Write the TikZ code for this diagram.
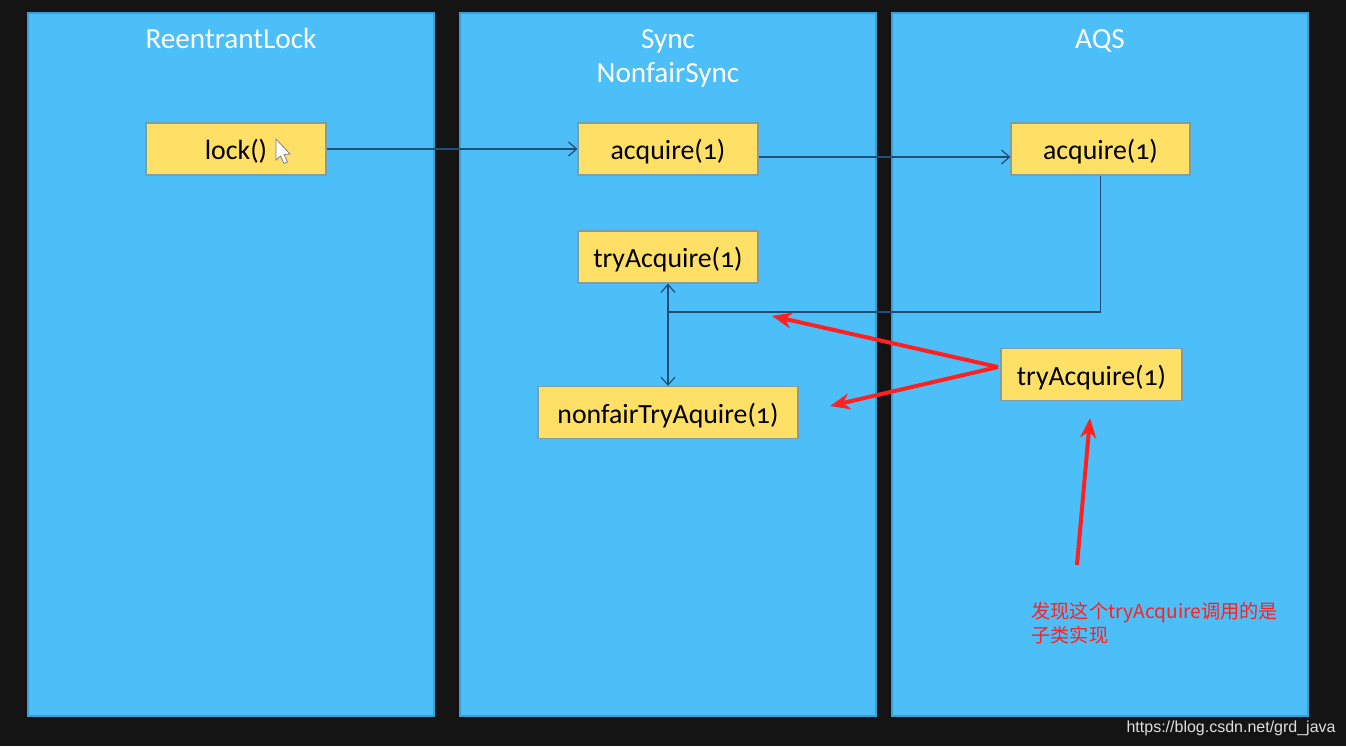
\documentclass[tikz,border=0pt]{standalone}
\usepackage{fontspec}
\setmainfont{Carlito}[Numbers=OldStyle]
\newfontfamily\cjk{Noto Sans CJK SC}
\newfontfamily\markfont{Liberation Sans}
\usetikzlibrary{arrows.meta}
\definecolor{bgdark}{HTML}{141414}
\definecolor{panelblue}{HTML}{4CBEF8}
\definecolor{paneledge}{HTML}{3A9FD6}
\definecolor{boxyellow}{HTML}{FFE066}
\definecolor{boxedge}{HTML}{7E9DA8}
\definecolor{linkblue}{HTML}{1F4E79}
\definecolor{notered}{HTML}{FF2020}
\begin{document}
\begin{tikzpicture}[x=0.5pt, y=-0.5pt,
  panel/.style={fill=panelblue, draw=paneledge, line width=0.6pt},
  title node/.style={text=white, font=\fontsize{14.6}{17}\selectfont},
  box node/.style={rectangle, draw=boxedge, fill=boxyellow, line width=0.6pt, minimum height=26pt, inner sep=0pt, text height=10.6pt, text depth=0pt, font=\fontsize{13.9}{16}\selectfont},
  link/.style={draw=linkblue, line width=0.6pt},
  red arrow/.style={draw=notered, line width=2pt, -{Stealth[length=10pt,width=8pt]}}]
\fill[bgdark] (0,0) rectangle (1346,746);

% three columns
\fill[panel] (28,13) rectangle (434,716);
\fill[panel] (460,13) rectangle (876,716);
\fill[panel] (892,13) rectangle (1308,716);

\node [title node](t1) at (231,38) {ReentrantLock};
\node [title node, align=center](t2) at (668,58) {Sync\\NonfairSync};
\node [title node](t3) at (1100,41) {AQS};

\node [box node, minimum width=90pt](lock) at (236,149) {lock()};
\node [box node, minimum width=90pt](syncacq) at (668,149) {acquire(1)};
\node [box node, minimum width=89.5pt](aqsacq) at (1100.5,149) {acquire(1)};
\node [box node, minimum width=90pt](synctry) at (668,257) {tryAcquire(1)};
\node [box node, minimum width=130pt](nonfair) at (668,412.5) {nonfairTryAquire(1)};
\node [box node, minimum width=90.5pt](aqstry) at (1091.5,374.5) {tryAcquire(1)};

% mouse cursor
\filldraw[fill=white, draw=gray, line width=0.4pt] (276,139) -- (276,160) -- (280.5,156) -- (284,163.5) -- (287.5,162) -- (284,154.5) -- (290,154) -- cycle;

\coordinate (join) at (668,312);
\draw [link, -{Straight Barb[length=4pt,width=7pt]}] (lock) -- (syncacq);
\draw [link, -{Straight Barb[length=4pt,width=7pt]}] ([yshift=-4pt]syncacq.east) -- ([yshift=-4pt]aqsacq.west);
\draw [link] (aqsacq.south) |- (join);
\draw [link, {Straight Barb[length=4pt,width=7pt]}-{Straight Barb[length=4pt,width=7pt]}] (synctry) -- (nonfair);

\coordinate (redtail) at (998,367);
\coordinate (tipA) at (772,316);
\coordinate (tipB) at (830,406);
\coordinate (notetail) at (1077,565);
\coordinate (tipC) at (1090,418);
\draw [red arrow] (redtail) -- (tipA);
\draw [red arrow] (redtail) -- (tipB);
\draw [red arrow] (notetail) -- (tipC);

\node [anchor=north west, align=left, inner sep=0pt, text=notered, font=\cjk\fontsize{9.6}{12}\selectfont](note) at (1031,602) {发现这个tryAcquire调用的是\\子类实现};
\node [anchor=east, inner sep=0pt, text=gray!25!white, font=\markfont\fontsize{8}{10}\selectfont](mark) at (1336,728) {https://blog.csdn.net/grd\_java};
\end{tikzpicture}
\end{document}
